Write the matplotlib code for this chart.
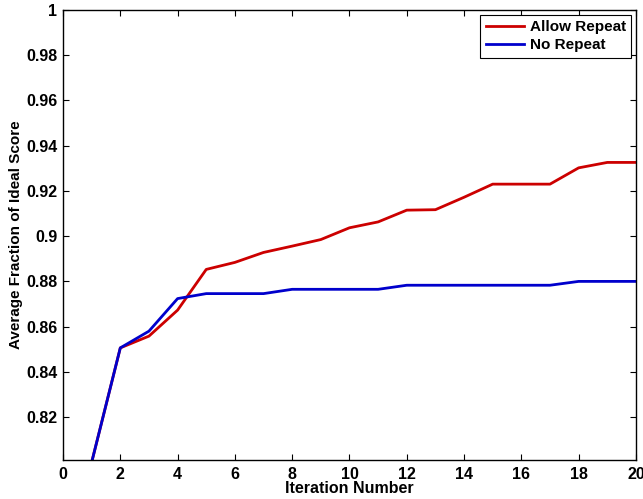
import numpy as np
import matplotlib
matplotlib.use("Agg")
import matplotlib.pyplot as plt
from matplotlib.ticker import FuncFormatter, MultipleLocator

plt.rcParams['font.family'] = ['Liberation Sans', 'DejaVu Sans']
plt.rcParams['font.weight'] = 'bold'

# ---------- data ----------
iterations = [1, 2, 3, 4, 5, 6, 7, 8, 9, 10, 11, 12, 13, 14, 15, 16, 17, 18, 19, 20]
allow_repeat = [0.800, 0.8506, 0.8558, 0.8673, 0.8853, 0.8884, 0.8928, 0.8956, 0.8985, 0.9037,
                0.9063, 0.9115, 0.9117, 0.9172, 0.9230, 0.9230, 0.9230, 0.9302, 0.9326, 0.9326]
no_repeat = [0.800, 0.8506, 0.8580, 0.8724, 0.8746, 0.8746, 0.8746, 0.8765, 0.8765, 0.8765,
             0.8765, 0.8783, 0.8783, 0.8783, 0.8783, 0.8783, 0.8783, 0.8800, 0.8800, 0.8800]

fig = plt.figure(figsize=(6.43, 4.99), dpi=100)
ax = fig.add_axes([0.098, 0.078, 0.891, 0.902])

ax.plot(iterations, allow_repeat, color='#cc0000', lw=2, label='Allow Repeat')
ax.plot(iterations, no_repeat, color='#0000cc', lw=2, label='No Repeat')

ax.set_xlim(0, 20)
ax.set_ylim(0.801, 1.0)
ax.xaxis.set_major_locator(MultipleLocator(2))
ax.yaxis.set_major_locator(MultipleLocator(0.02))
ax.yaxis.set_major_formatter(FuncFormatter(lambda v, p: '%g' % round(v, 4)))
ax.tick_params(direction='in', top=True, right=True, length=4, width=0.8,
               labelsize=11.5, pad=4)
ax.tick_params(axis='x', pad=5)
for lab in ax.get_xticklabels() + ax.get_yticklabels():
    lab.set_fontweight('bold')
for s in ax.spines.values():
    s.set_linewidth(1)

ax.set_xlabel('Iteration Number', fontsize=11.5, fontweight='bold', labelpad=-1)
ax.set_ylabel('Average Fraction of Ideal Score', fontsize=11, fontweight='bold', labelpad=2)

leg = ax.legend(loc='upper right', fancybox=False, edgecolor='black', framealpha=1,
                prop={'weight': 'bold', 'size': 11}, handlelength=2.5,
                borderpad=0.35, labelspacing=0.3, handletextpad=0.4,
                borderaxespad=0.3)
leg.get_frame().set_linewidth(0.8)

fig.savefig('out.png', dpi=100)
